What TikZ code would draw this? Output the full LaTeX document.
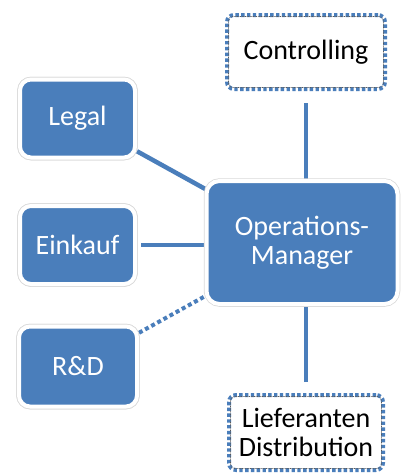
\documentclass[tikz,border=0pt]{standalone}
\usepackage{fontspec}
\setmainfont{Carlito}
\definecolor{ublue}{HTML}{4A7EBB}
\definecolor{frameline}{HTML}{5A5A5A}
\newcommand{\boxfont}{\fontsize{28}{29}\selectfont}
\begin{document}
\begin{tikzpicture}[x=1pt,y=1pt,
  blk/.style={rounded corners=11pt, fill=ublue, draw=white, line width=4pt,
    preaction={draw=gray!30, line width=5.5pt},
    text=white, inner sep=0pt, align=center, font=\boxfont},
  side/.style={blk, minimum width=115pt, minimum height=78pt},
  dotbox/.style={rounded corners=7pt, draw=ublue, line width=4pt,
    dash pattern=on 3.4pt off 2.4pt, fill=white, text=black,
    inner sep=0pt, align=center, font=\boxfont},
  innerdot/.style={draw=frameline, line width=0.6pt, dash pattern=on 0.8pt off 0.8pt, rounded corners=4pt},
  link/.style={draw=ublue, line width=4.5pt},
  dotlink/.style={draw=ublue, line width=4pt, dash pattern=on 4pt off 3pt}]
\useasboundingbox (0,0) rectangle (401,-475);
\fill[white] (0,0) rectangle (401,-475);

% centres of the blue boxes
\coordinate (legalc) at (77.5,-118.5);
\coordinate (einkc) at (77.5,-245);
\coordinate (rdc) at (78,-366.5);
\coordinate (omc) at (302,-242.5);

\node[side] (legal) at (legalc) {Legal};
\node[side] (eink) at (einkc) {Einkauf};
\node[side, minimum width=118pt, minimum height=80pt] (rd) at (rdc) {R\&D};

% dotted frames with their thin inner outline
\node[dotbox, minimum width=158pt, minimum height=74pt] (ctrl) at (306,-52) {Controlling};
\node[dotbox, minimum width=154pt, minimum height=75pt] (lief) at (306,-432.5) {Lieferanten\\Distribution};
\draw[innerdot] ([shift={(3.5pt,3.5pt)}]ctrl.south west) rectangle ([shift={(-3.5pt,-3.5pt)}]ctrl.north east);
\draw[innerdot] ([shift={(3.5pt,3.5pt)}]lief.south west) rectangle ([shift={(-3.5pt,-3.5pt)}]lief.north east);

% connectors
\draw[link] (legal) -- (omc);
\draw[link, shorten <=4pt] (eink.east) -- (eink.east -| omc);
\draw[dotlink] (rd) -- (omc);
\draw[link, shorten <=12pt] (ctrl.south) -- (ctrl.south |- omc);
\draw[link, shorten <=11pt] (lief.north) -- (lief.north |- omc);

% central box and side boxes on top of the connectors
\node[blk, rounded corners=13pt, minimum width=191pt, minimum height=123pt] (om) at (omc) {Operations-\\Manager};
\node[side] at (legalc) {Legal};
\node[side] at (einkc) {Einkauf};
\node[side, minimum width=118pt, minimum height=80pt] at (rdc) {R\&D};
\end{tikzpicture}
\end{document}
